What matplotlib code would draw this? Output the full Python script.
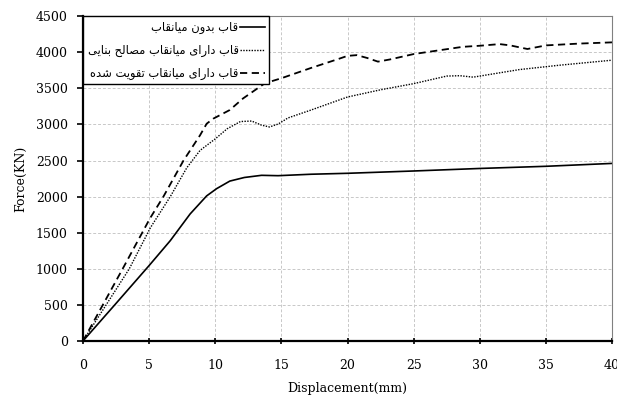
import matplotlib
matplotlib.use("Agg")
import matplotlib.pyplot as plt
from matplotlib.lines import Line2D

# Load-displacement curves of the three frame models
disp_bare = [0, 2.4, 5, 6.6, 8.1, 9.35, 10.1, 11.1, 12.2, 13.5, 14.75, 17.25,
             20, 25, 30, 35, 40]
force_bare = [0, 500, 1045, 1390, 1760, 2010, 2110, 2215, 2265, 2295, 2290,
              2310, 2323, 2355, 2390, 2420, 2460]

disp_masonry = [0, 3.5, 5.1, 6.6, 7.85, 8.85, 10, 10.9, 11.9, 12.75, 13.5,
                14.1, 14.75, 15.5, 17.25, 20, 22.5, 25, 27.5, 28.5, 29.5, 31,
                33, 36, 40]
force_masonry = [0, 1000, 1570, 2000, 2400, 2640, 2800, 2940, 3040, 3047,
                 2990, 2965, 3005, 3090, 3200, 3380, 3480, 3565, 3670, 3675,
                 3655, 3700, 3760, 3820, 3890]

disp_retrofit = [0, 3, 5.07, 6.08, 7.6, 8.85, 9.35, 9.85, 11.1, 12.1, 13.75,
                 15, 17.2, 19.2, 20, 20.7, 21.5, 22.3, 23.2, 25, 28.7, 30,
                 31.5, 32.3, 33.6, 35, 37.5, 40]
force_retrofit = [0, 1000, 1700, 2000, 2500, 2850, 3010, 3080, 3200, 3360,
                  3570, 3640, 3780, 3900, 3950, 3960, 3920, 3870, 3900, 3975,
                  4075, 4090, 4113, 4095, 4045, 4095, 4120, 4137]

series_labels = ["قاب بدون میانقاب",
                 "قاب دارای میانقاب مصالح بنایی",
                 "قاب دارای میانقاب تقویت شده"]

x_ticks = [0, 5, 10, 15, 20, 25, 30, 35, 40]
y_ticks = [0, 500, 1000, 1500, 2000, 2500, 3000, 3500, 4000, 4500]

# Contextual letter forms (isolated, final, initial, medial) so that the
# Persian labels are drawn joined and right-to-left.
FORMS = {
    "ا": ("\uFE8D", "\uFE8E", None, None),
    "ب": ("\uFE8F", "\uFE90", "\uFE91", "\uFE92"),
    "ت": ("\uFE95", "\uFE96", "\uFE97", "\uFE98"),
    "ح": ("\uFEA1", "\uFEA2", "\uFEA3", "\uFEA4"),
    "د": ("\uFEA9", "\uFEAA", None, None),
    "ر": ("\uFEAD", "\uFEAE", None, None),
    "ش": ("\uFEB5", "\uFEB6", "\uFEB7", "\uFEB8"),
    "ص": ("\uFEB9", "\uFEBA", "\uFEBB", "\uFEBC"),
    "ق": ("\uFED5", "\uFED6", "\uFED7", "\uFED8"),
    "ل": ("\uFEDD", "\uFEDE", "\uFEDF", "\uFEE0"),
    "م": ("\uFEE1", "\uFEE2", "\uFEE3", "\uFEE4"),
    "ن": ("\uFEE5", "\uFEE6", "\uFEE7", "\uFEE8"),
    "ه": ("\uFEE9", "\uFEEA", "\uFEEB", "\uFEEC"),
    "و": ("\uFEED", "\uFEEE", None, None),
    "ی": ("\uFBFC", "\uFBFD", "\uFBFE", "\uFBFF"),
}


def shape_rtl(text):
    out = []
    for i, c in enumerate(text):
        if c not in FORMS:
            out.append(c)
            continue
        prev = text[i - 1] if i > 0 else None
        nxt = text[i + 1] if i + 1 < len(text) else None
        join_prev = prev in FORMS and FORMS[prev][2] is not None
        join_next = nxt in FORMS and FORMS[c][2] is not None
        iso, fin, ini, med = FORMS[c]
        if join_prev and join_next:
            out.append(med)
        elif join_prev:
            out.append(fin)
        elif join_next:
            out.append(ini)
        else:
            out.append(iso)
    return "".join(reversed(out))


fig = plt.figure(figsize=(6.17, 4.04), dpi=100)
ax = fig.add_axes([0.1345, 0.156, 0.8575, 0.804])

ax.plot(disp_bare, force_bare, color="black", lw=1.2, ls="-")
ax.plot(disp_masonry, force_masonry, color="black", lw=1.0, ls=(0, (1, 1)))
ax.plot(disp_retrofit, force_retrofit, color="black", lw=1.3, ls=(0, (4, 2.5)))

ax.set_xlim(0, 40)
ax.set_ylim(0, 4500)
ax.set_xticks(x_ticks)
ax.set_yticks(y_ticks)
ax.set_xticklabels([str(v) for v in x_ticks])
ax.set_yticklabels([str(v) for v in y_ticks])

ax.grid(True, color="#c8c8c8", lw=0.7, ls=(0, (3, 2)))
ax.set_axisbelow(True)

for side in ("left", "bottom"):
    ax.spines[side].set_linewidth(1.6)
    ax.spines[side].set_color("black")
for side in ("top", "right"):
    ax.spines[side].set_linewidth(0.8)
    ax.spines[side].set_color("#808080")

serif = "DejaVu Serif"
ax.tick_params(axis="x", direction="inout", length=4.5, width=1.2, pad=10.7,
               labelsize=9)
ax.tick_params(axis="y", direction="out", length=4.3, width=1.2, pad=6.7,
               labelsize=9)
for lab in ax.get_xticklabels() + ax.get_yticklabels():
    lab.set_fontfamily(serif)

ax.set_xlabel("Displacement(mm)", fontfamily=serif, fontsize=9, labelpad=7)
ax.set_ylabel("Force(KN)", fontfamily=serif, fontsize=9, labelpad=6)

handles = [
    Line2D([], [], color="black", lw=1.2, ls="-"),
    Line2D([], [], color="black", lw=1.0, ls=(0, (1, 1))),
    Line2D([], [], color="black", lw=1.3, ls=(0, (4, 2.5))),
]
leg = ax.legend(handles, [shape_rtl(t) for t in series_labels],
                loc="upper left", bbox_to_anchor=(0, 1), borderaxespad=0,
                markerfirst=False, fancybox=False, framealpha=1,
                edgecolor="black", prop={"family": "DejaVu Sans", "size": 8.3},
                handlelength=2.1, handletextpad=0.15, labelspacing=0.85,
                borderpad=0.4)
leg.get_frame().set_linewidth(1.0)

fig.savefig("out.png", dpi=100)
